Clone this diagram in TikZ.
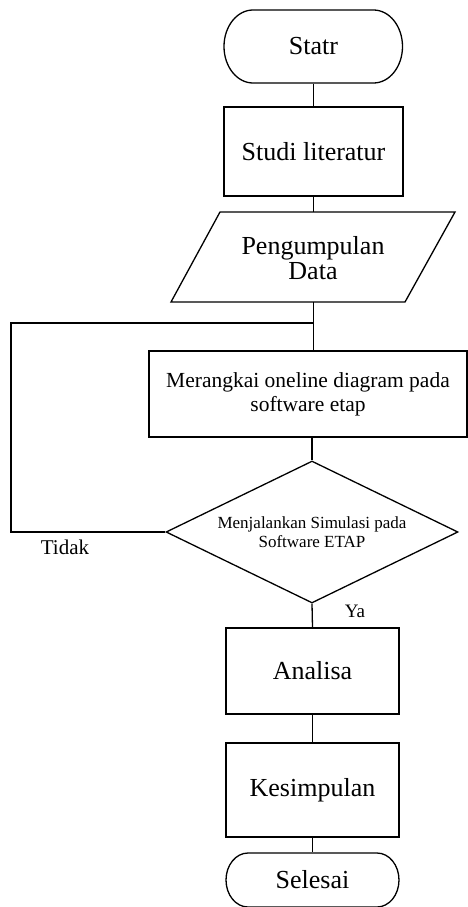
\documentclass[tikz,border=0pt]{standalone}
\usepackage{fontspec}
\setmainfont{Liberation Serif}
\usetikzlibrary{shapes.geometric}
\begin{document}
\begin{tikzpicture}[x=1pt,y=-1pt,
  every path/.style={line width=1.3pt},
  bigtext/.style={font=\fontsize{26}{25}\selectfont},
  procbox/.style={draw, line width=1.3pt, rectangle, inner sep=0pt, align=center, bigtext},
  termtext/.style={rectangle, inner sep=0pt, align=center, bigtext},
  decbox/.style={draw, line width=1.3pt, diamond, shape aspect=2.06, inner sep=0pt, align=center,
     minimum width=292pt, minimum height=142pt, font=\fontsize{17}{19}\selectfont},
  lbl/.style={inner sep=0pt}
]
\useasboundingbox (0,0) rectangle (468,907);

% terminator Statr (elliptical ends)
\node[termtext, minimum width=178pt, minimum height=73pt] (start) at (313.5,46.5) {Statr};
\draw (253,10) -- (373.5,10) arc[start angle=-90, end angle=90, x radius=29, y radius=36.5]
      -- (253,83) arc[start angle=90, end angle=270, x radius=29, y radius=36.5] -- cycle;

\node[procbox, minimum width=179pt, minimum height=89pt] (studi) at (313.5,151.5) {Studi literatur};

% parallelogram (data input)
\coordinate (ptl) at (220,212);
\coordinate (ptr) at (455,212);
\coordinate (pbr) at (405,302);
\coordinate (pbl) at (171,302);
\draw (ptl) -- (ptr) -- (pbr) -- (pbl) -- cycle;
\node[lbl, align=center, bigtext] (data) at (313,258) {Pengumpulan\\Data};
\coordinate (dtop) at (313.5,212);
\coordinate (dbot) at (313.5,302);

\coordinate (junc) at (313.5,323);
\coordinate (loopc) at (11,323);

\node[procbox, minimum width=318pt, minimum height=86pt, font=\fontsize{21.5}{24}\selectfont] (rangkai) at (308,394)
  {Merangkai oneline diagram pada\\software etap};

\node[decbox] (sim) at (312,532) {Menjalankan Simulasi pada\\Software ETAP};

\node[procbox, minimum width=173pt, minimum height=86pt] (analisa) at (312.5,671) {Analisa};
\node[procbox, minimum width=173pt, minimum height=94pt] (kesimpulan) at (312.5,790) {Kesimpulan};

% terminator Selesai
\node[termtext, minimum width=173pt, minimum height=54pt] (selesai) at (312.5,880) {Selesai};
\draw (248,853) -- (377,853) arc[start angle=-90, end angle=90, x radius=22, y radius=27]
      -- (248,907) arc[start angle=90, end angle=270, x radius=22, y radius=27] -- cycle;

\node[lbl, font=\fontsize{21}{24}\selectfont] (tidak) at (65,547) {Tidak};
\node[lbl, font=\fontsize{19}{22}\selectfont] (ya) at (355,611) {Ya};

% connectors
\draw (start.south) -- (studi.north);
\draw (studi.south) -- (dtop);
\draw (dbot) -- (junc) -- (rangkai.north -| junc);
\draw (rangkai.south -| sim.north) -- (sim.north);
\draw (sim.west) -| (loopc) -- (junc);
\draw (sim.south) -- (analisa.north);
\draw (analisa.south) -- (kesimpulan.north);
\draw (kesimpulan.south) -- (selesai.north);
\end{tikzpicture}
\end{document}
